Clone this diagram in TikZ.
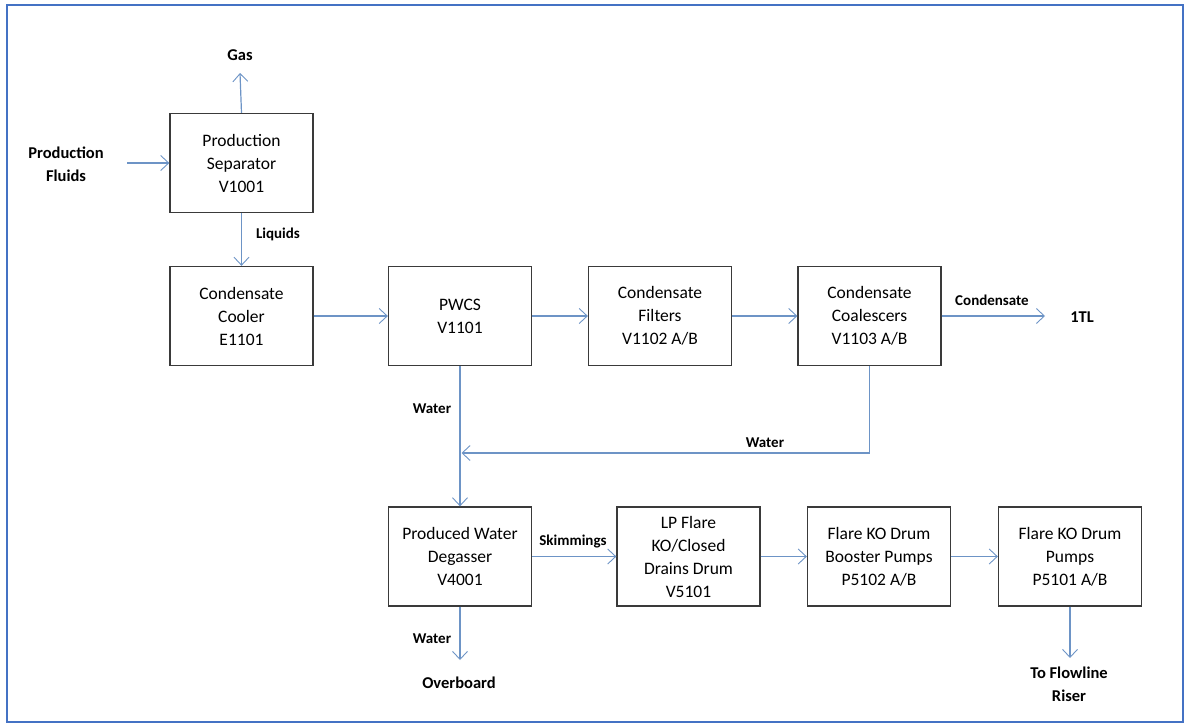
\documentclass[tikz,border=0pt]{standalone}
\usepackage{fontspec}
\setmainfont{Carlito}
\usetikzlibrary{arrows.meta}
\definecolor{frameblue}{HTML}{4472C4}
\definecolor{flowblue}{HTML}{6D94C6}
\definecolor{boxline}{HTML}{3A3A3A}
\tikzset{
  x=1pt,y=-1pt,
  unit/.style={draw=boxline,line width=1.3pt,fill=white,align=center,inner sep=0pt,
    minimum width=143pt,minimum height=99pt,font=\fontsize{17.5}{23}\selectfont},
  endtext/.style={align=center,inner sep=0pt,font=\bfseries\fontsize{16.5}{23}\selectfont},
  flowlabel/.style={inner sep=0pt,font=\bfseries\fontsize{15}{18}\selectfont},
  flow/.style={draw=flowblue,line width=1.2pt,-{Straight Barb[length=8pt,width=15pt,line width=0.9pt]}},
  flowline/.style={draw=flowblue,line width=1.2pt}
}
\begin{document}
\begin{tikzpicture}
\useasboundingbox (0,0) rectangle (1187,726);
\draw[frameblue,line width=2pt] (7,5) rectangle (1183,722);

% units
\node[unit] (sep) at (241.5,163) {Production\\Separator\\V1001};
\node[unit] (cool) at (241.5,316) {Condensate\\Cooler\\E1101};
\node[unit] (pwcs) at (460,316) {PWCS\\V1101};
\node[unit] (filt) at (660,316) {Condensate\\Filters\\V1102 A/B};
\node[unit] (coal) at (869.5,316) {Condensate\\Coalescers\\V1103 A/B};
\node[unit] (deg) at (460,556.5) {Produced Water\\Degasser\\V4001};
\node[unit] (lp) at (688.5,556.5) {LP Flare\\KO/Closed\\Drains Drum\\V5101};
\node[unit] (boost) at (879,556.5) {Flare KO Drum\\Booster Pumps\\P5102 A/B};
\node[unit] (pump) at (1070,556.5) {Flare KO Drum\\Pumps\\P5101 A/B};

% terminals
\node[endtext] (gas) at (240,55) {Gas};
\node[endtext] (fluids) at (66,164) {Production\\Fluids};
\node[endtext] (ttl) at (1082,317) {1TL};
\node[endtext] (over) at (459,683) {Overboard};
\node[endtext] (riser) at (1069,684) {To Flowline\\Riser};

\coordinate (gasend) at (240,73);
\coordinate (fluidstart) at (127,163);
\coordinate (condend) at (1045,316);
\coordinate (junctip) at (461.5,453);
\coordinate (coalturn) at (869.5,453);
\coordinate (overend) at (460,660);
\coordinate (riserend) at (1070,658);

% flows
\draw[flow] (sep.north) -- (gasend);
\draw[flow] (fluidstart) -- (sep.west);
\draw[flow] (sep.south) -- (cool.north);
\draw[flow] (cool.east) -- (pwcs.west);
\draw[flow] (pwcs.east) -- (filt.west);
\draw[flow] (filt.east) -- (coal.west);
\draw[flow] (coal.east) -- (condend);
\draw[flow] (pwcs.south) -- (deg.north);
\draw[flowline] (coal.south) -- (coalturn);
\draw[flow] (coalturn) -- (junctip);
\draw[flow] (deg.south) -- (overend);
\draw[flow] (deg.east) -- (lp.west);
\draw[flow] (lp.east) -- (boost.west);
\draw[flow] (boost.east) -- (pump.west);
\draw[flow] (pump.south) -- (riserend);

% flow labels
\node[flowlabel] (lliq) at (278,234) {Liquids};
\node[flowlabel] (lcond) at (992,300) {Condensate};
\node[flowlabel] (lw1) at (432,409) {Water};
\node[flowlabel] (lw2) at (765,443) {Water};
\node[flowlabel] (lw3) at (432,639) {Water};
\node[flowlabel] (lskim) at (573,542) {Skimmings};
\end{tikzpicture}
\end{document}
